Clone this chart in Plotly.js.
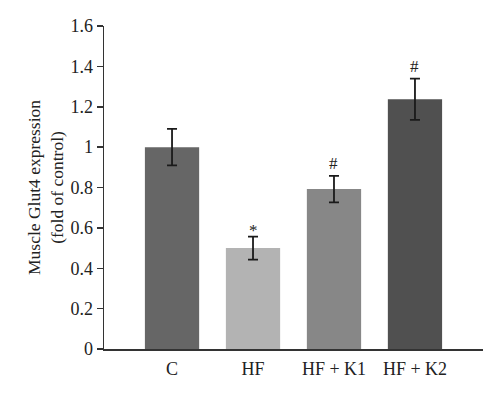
<!DOCTYPE html>
<html>
<head>
<meta charset="utf-8">
<script src="https://cdn.plot.ly/plotly-3.0.1.min.js"></script>
<style>html,body{margin:0;padding:0;background:#fff;}#chart{width:500px;height:396px;}</style>
</head>
<body>
<div id="chart"></div>
<script>
const categories = ["C", "HF", "HF + K1", "HF + K2"];
const values = [1.0, 0.5, 0.792, 1.237];
const errors = [0.09, 0.057, 0.066, 0.102];
const marks = ["", "*", "#", "#"];
const colors = ["#666666", "#b3b3b3", "#878787", "#505050"];
const yTicks = [0, 0.2, 0.4, 0.6, 0.8, 1, 1.2, 1.4, 1.6];
const yTickText = ["0", "0.2", "0.4", "0.6", "0.8", "1", "1.2", "1.4", "1.6"];

const font = "Liberation Serif, Times New Roman, serif";

const trace = {
  type: "bar",
  x: [0, 1, 2, 3],
  y: values,
  width: 0.67,
  marker: {color: colors, line: {width: 0}},
  error_y: {type: "data", array: errors, visible: true, color: "#1a1a1a", thickness: 1.8, width: 5},
  hoverinfo: "none"
};

const annotations = categories.map((c, i) => ({
  x: i, y: values[i] + errors[i], xref: "x", yref: "y",
  text: marks[i], showarrow: false, yanchor: "bottom", yshift: i === 1 ? -5 : 1,
  font: {family: font, size: 17, color: "#222"}
})).filter(a => a.text !== "");

const layout = {
  width: 500, height: 396,
  margin: {l: 104, r: 17, t: 26, b: 47},
  paper_bgcolor: "#fff", plot_bgcolor: "#fff",
  showlegend: false,
  font: {family: font, color: "#222"},
  xaxis: {
    range: [-0.84, 3.84], tickvals: [0, 1, 2, 3], ticktext: categories,
    showline: true, linecolor: "#333", linewidth: 1.5, ticks: "", showgrid: false, zeroline: false,
    tickfont: {family: font, size: 18, color: "#222"}, ticklabelstandoff: 3
  },
  yaxis: {
    range: [0, 1.6], tickvals: yTicks, ticktext: yTickText,
    showline: true, linecolor: "#333", linewidth: 1.5, ticks: "outside", ticklen: 6, tickwidth: 1.5, tickcolor: "#333",
    showgrid: false, zeroline: false,
    tickfont: {family: font, size: 18, color: "#222"},
    title: {text: "Muscle Glut4 expression<br>(fold of control)", font: {family: font, size: 17.5, color: "#222"}, standoff: 2}
  },
  annotations: annotations
};

Plotly.newPlot("chart", [trace], layout, {displayModeBar: false, staticPlot: true});
</script>
</body>
</html>
